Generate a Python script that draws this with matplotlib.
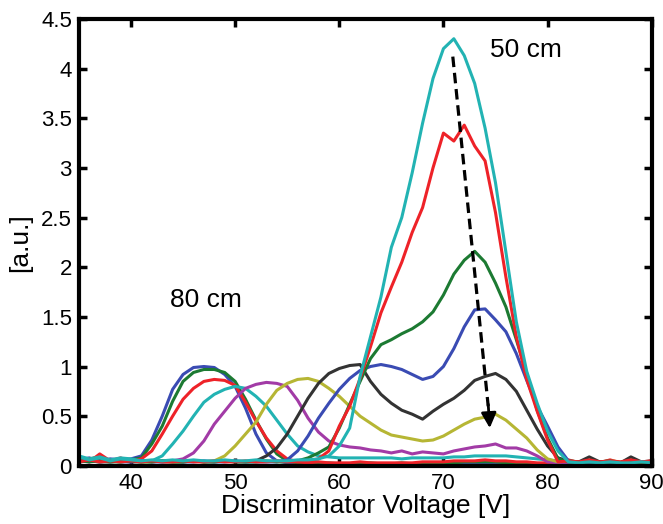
import matplotlib
matplotlib.use("Agg")
import matplotlib.pyplot as plt
from matplotlib.ticker import FormatStrFormatter, MultipleLocator

plt.rcParams['font.family'] = ['Liberation Sans', 'DejaVu Sans']

# discriminator voltage grid, 1 V steps from 35 to 90
voltage = list(range(35, 91))

# spectra, 80 cm first ... 50 cm last (matlab b g r c m y k order)
blue1 = [0.06, 0.08, 0.05, 0.07, 0.06, 0.07, 0.10, 0.26, 0.50, 0.77,
         0.92, 0.99, 1.00, 0.99, 0.92, 0.80, 0.58, 0.32, 0.13, 0.05,
         0.03, 0.02, 0.02, 0.03, 0.02, 0.02, 0.02, 0.03, 0.02, 0.02,
         0.02, 0.02, 0.02, 0.02, 0.02, 0.02, 0.03, 0.03, 0.03, 0.03,
         0.03, 0.03, 0.02, 0.02, 0.02, 0.02, 0.02, 0.02, 0.02, 0.03,
         0.02, 0.03, 0.02, 0.02, 0.03, 0.02]
green1 = [0.05, 0.07, 0.09, 0.05, 0.07, 0.06, 0.08, 0.22, 0.40, 0.65,
          0.85, 0.94, 0.97, 0.97, 0.94, 0.85, 0.67, 0.46, 0.27, 0.12,
          0.05, 0.03, 0.02, 0.02, 0.03, 0.02, 0.02, 0.02, 0.03, 0.02,
          0.02, 0.03, 0.02, 0.02, 0.03, 0.03, 0.03, 0.04, 0.04, 0.04,
          0.04, 0.03, 0.03, 0.03, 0.02, 0.02, 0.02, 0.03, 0.02, 0.03,
          0.02, 0.02, 0.03, 0.02, 0.02, 0.03]
red1 = [0.07, 0.04, 0.12, 0.05, 0.08, 0.04, 0.07, 0.15, 0.32, 0.50,
        0.67, 0.78, 0.85, 0.87, 0.86, 0.81, 0.64, 0.45, 0.28, 0.15,
        0.07, 0.04, 0.03, 0.04, 0.03, 0.03, 0.03, 0.04, 0.03, 0.03,
        0.03, 0.03, 0.03, 0.04, 0.04, 0.04, 0.05, 0.05, 0.05, 0.06,
        0.05, 0.05, 0.04, 0.04, 0.03, 0.03, 0.04, 0.06, 0.03, 0.05,
        0.03, 0.06, 0.03, 0.04, 0.03, 0.05]
cyan1 = [0.10, 0.07, 0.09, 0.06, 0.08, 0.07, 0.05, 0.05, 0.10, 0.22,
         0.35, 0.50, 0.64, 0.72, 0.77, 0.80, 0.78, 0.70, 0.60, 0.46,
         0.32, 0.20, 0.14, 0.10, 0.09, 0.08, 0.08, 0.08, 0.08, 0.08,
         0.08, 0.07, 0.08, 0.08, 0.08, 0.08, 0.09, 0.09, 0.10, 0.10,
         0.10, 0.10, 0.09, 0.08, 0.07, 0.06, 0.05, 0.04, 0.03, 0.04,
         0.03, 0.04, 0.03, 0.03, 0.04, 0.03]
magenta = [0.05, 0.04, 0.06, 0.04, 0.05, 0.04, 0.05, 0.04, 0.05, 0.05,
           0.07, 0.13, 0.25, 0.42, 0.55, 0.68, 0.78, 0.82, 0.84, 0.83,
           0.80, 0.66, 0.48, 0.34, 0.25, 0.21, 0.19, 0.18, 0.16, 0.15,
           0.13, 0.15, 0.12, 0.14, 0.13, 0.12, 0.15, 0.17, 0.19, 0.20,
           0.22, 0.18, 0.18, 0.15, 0.10, 0.04, 0.03, 0.03, 0.04, 0.03,
           0.03, 0.04, 0.03, 0.03, 0.04, 0.03]
yellow = [0.04, 0.05, 0.04, 0.05, 0.04, 0.05, 0.04, 0.04, 0.05, 0.04,
          0.04, 0.05, 0.04, 0.05, 0.10, 0.20, 0.32, 0.44, 0.62, 0.76,
          0.83, 0.87, 0.88, 0.85, 0.78, 0.70, 0.60, 0.50, 0.43, 0.36,
          0.31, 0.29, 0.27, 0.25, 0.26, 0.30, 0.36, 0.42, 0.47, 0.49,
          0.52, 0.46, 0.37, 0.28, 0.16, 0.07, 0.04, 0.05, 0.04, 0.05,
          0.04, 0.05, 0.04, 0.05, 0.04, 0.04]
black = [0.04, 0.05, 0.04, 0.04, 0.05, 0.04, 0.04, 0.05, 0.04, 0.04,
         0.04, 0.05, 0.04, 0.04, 0.05, 0.04, 0.04, 0.05, 0.10, 0.18,
         0.32, 0.50, 0.68, 0.83, 0.93, 0.98, 1.01, 1.02, 0.85, 0.72,
         0.63, 0.56, 0.52, 0.47, 0.55, 0.62, 0.68, 0.76, 0.86, 0.90,
         0.93, 0.87, 0.75, 0.56, 0.37, 0.20, 0.08, 0.05, 0.04, 0.09,
         0.04, 0.05, 0.03, 0.09, 0.04, 0.05]
blue2 = [0.04, 0.05, 0.04, 0.05, 0.04, 0.04, 0.05, 0.04, 0.04, 0.05,
         0.04, 0.04, 0.05, 0.04, 0.04, 0.05, 0.04, 0.04, 0.04, 0.04,
         0.06, 0.15, 0.30, 0.48, 0.63, 0.77, 0.88, 0.96, 1.00, 1.02,
         1.00, 0.97, 0.92, 0.87, 0.90, 1.00, 1.18, 1.40, 1.57, 1.58,
         1.47, 1.35, 1.13, 0.86, 0.60, 0.40, 0.19, 0.05, 0.03, 0.04,
         0.03, 0.04, 0.03, 0.03, 0.04, 0.03]
green2 = [0.05, 0.04, 0.05, 0.04, 0.04, 0.05, 0.04, 0.04, 0.05, 0.04,
          0.04, 0.05, 0.04, 0.04, 0.05, 0.04, 0.04, 0.04, 0.05, 0.04,
          0.04, 0.05, 0.08, 0.13, 0.19, 0.38, 0.62, 0.85, 1.08, 1.22,
          1.27, 1.33, 1.38, 1.45, 1.55, 1.72, 1.93, 2.07, 2.16, 2.05,
          1.84, 1.60, 1.27, 0.93, 0.56, 0.28, 0.07, 0.04, 0.03, 0.04,
          0.03, 0.04, 0.03, 0.04, 0.03, 0.04]
red2 = [0.04, 0.06, 0.04, 0.05, 0.04, 0.05, 0.04, 0.05, 0.04, 0.04,
        0.05, 0.04, 0.04, 0.05, 0.04, 0.04, 0.05, 0.04, 0.04, 0.05,
        0.04, 0.04, 0.05, 0.07, 0.15, 0.40, 0.60, 0.88, 1.20, 1.54,
        1.80, 2.05, 2.35, 2.60, 3.00, 3.35, 3.27, 3.43, 3.22, 3.07,
        2.55, 1.90, 1.30, 0.87, 0.55, 0.26, 0.04, 0.05, 0.04, 0.06,
        0.04, 0.05, 0.04, 0.06, 0.04, 0.05]
cyan2 = [0.09, 0.06, 0.08, 0.05, 0.07, 0.06, 0.05, 0.06, 0.05, 0.06,
         0.05, 0.06, 0.05, 0.05, 0.06, 0.05, 0.05, 0.06, 0.05, 0.05,
         0.05, 0.06, 0.06, 0.07, 0.10, 0.20, 0.38, 0.90, 1.30, 1.70,
         2.20, 2.50, 2.95, 3.45, 3.90, 4.20, 4.30, 4.13, 3.85, 3.40,
         2.85, 2.15, 1.45, 0.95, 0.63, 0.35, 0.15, 0.04, 0.03, 0.04,
         0.03, 0.04, 0.03, 0.03, 0.04, 0.03]

spectra = [blue1, green1, red1, cyan1, magenta, yellow, black,
           blue2, green2, red2, cyan2]
colors = ['#3a4bb3', '#1c7a32', '#ee2228', '#22b3b3', '#a23ba6', '#b6b634', '#333333',
          '#3a4bb3', '#1c7a32', '#ee2228', '#22b3b3']

fig = plt.figure(figsize=(6.63, 5.24), dpi=100)
ax = fig.add_axes([0.119, 0.111, 0.864, 0.853])

for s, c in zip(spectra, colors):
    ax.plot(voltage, s, color=c, lw=2.2)

# dashed arrow from the 50 cm peak down the distance series
arrow_start = (70.9, 4.12)
arrow_end = (74.45, 0.38)
ax.plot([arrow_start[0], 74.3], [arrow_start[1], 0.6], color='k', lw=2.3,
        dashes=(3.3, 1.8))
ax.annotate('', xy=arrow_end, xytext=(74.3, 0.62),
            arrowprops=dict(arrowstyle='-|>,head_length=0.9,head_width=0.45',
                            color='k', lw=2.0, shrinkA=0, shrinkB=0))

ax.text(77.9, 4.19, '50 cm', fontsize=19, ha='center', va='center')
ax.text(47.2, 1.67, '80 cm', fontsize=19, ha='center', va='center')

ax.set_xlim(35, 90)
ax.set_ylim(0, 4.5)
ax.xaxis.set_major_locator(MultipleLocator(10))
ax.yaxis.set_major_locator(MultipleLocator(0.5))
ax.yaxis.set_major_formatter(FormatStrFormatter('%g'))
ax.tick_params(direction='in', length=6, width=2.5, labelsize=16,
               top=True, right=True, pad=5)
for sp in ax.spines.values():
    sp.set_linewidth(3)

ax.set_xlabel('Discriminator Voltage [V]', fontsize=19, labelpad=0)
ax.set_ylabel('[a.u.]', fontsize=19, labelpad=6)

fig.savefig('out.png', dpi=100)
